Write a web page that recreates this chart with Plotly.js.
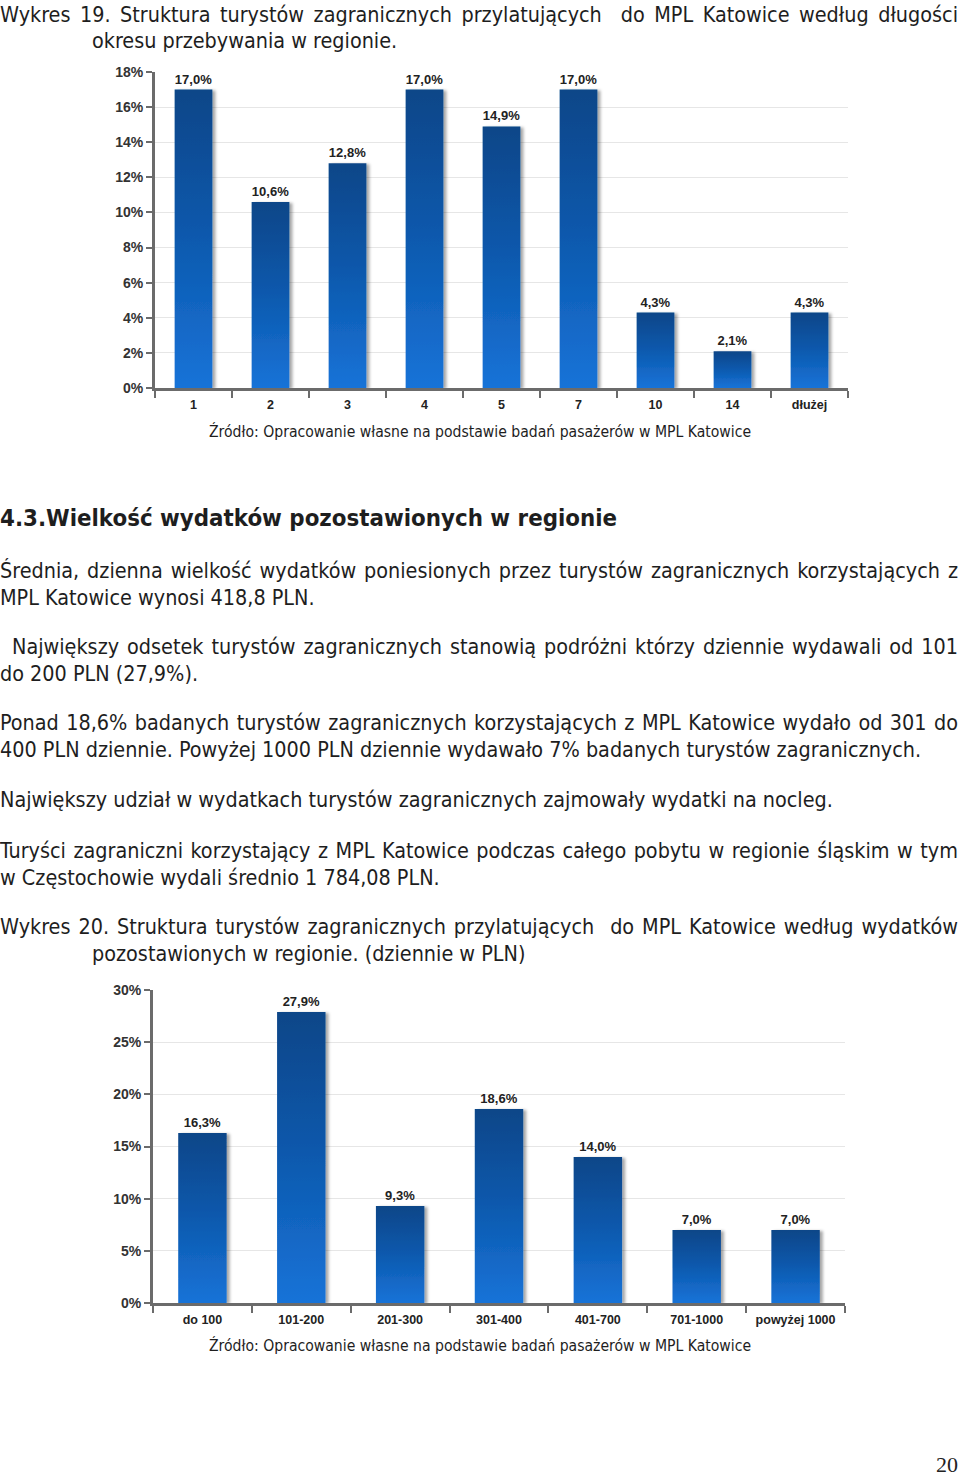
<!DOCTYPE html>
<html>
<head>
<meta charset="utf-8">
<script src="https://cdn.plot.ly/plotly-3.0.1.min.js"></script>
<style>
  html, body { margin: 0; padding: 0; background: #fff; }
  body { width: 960px; height: 1482px; position: relative; overflow: hidden;
         font-family: "DejaVu Sans Condensed", "DejaVu Sans", sans-serif; color: #1e1e1e; }
  .ln { position: absolute; left: 0; font-size: 21.4px; line-height: 27px; white-space: nowrap; }
  .src { position: absolute; left: 0; width: 960px; text-align: center; font-size: 15.6px; line-height: 22px; white-space: nowrap; }
  .chart { position: absolute; left: 0; width: 960px; }
</style>
</head>
<body>
<div class="ln" data-fit="958" style="top:1px;">Wykres 19. Struktura turystów zagranicznych przylatujących&nbsp; do MPL Katowice według długości</div>
<div class="ln" style="top:27px; left:92px;">okresu przebywania w regionie.</div>

<div id="chart1" class="chart" style="top:60px; height:360px;"></div>
<div class="src" style="top:421px;">Źródło: Opracowanie własne na podstawie badań pasażerów w MPL Katowice</div>

<div class="ln" style="top:505px; font-weight:bold; font-size:23.8px;">4.3.Wielkość wydatków pozostawionych w regionie</div>

<div class="ln" data-fit="958" style="top:557px;">Średnia, dzienna wielkość wydatków poniesionych przez turystów zagranicznych korzystających z</div>
<div class="ln" style="top:584px;">MPL Katowice wynosi 418,8 PLN.</div>

<div class="ln" data-fit="946" style="top:633px; left:12px;">Największy odsetek turystów zagranicznych stanowią podróżni którzy dziennie wydawali od 101</div>
<div class="ln" style="top:660px;">do 200 PLN (27,9%).</div>

<div class="ln" data-fit="958" style="top:709px;">Ponad 18,6% badanych turystów zagranicznych korzystających z MPL Katowice wydało od 301 do</div>
<div class="ln" style="top:736px;">400 PLN dziennie. Powyżej 1000 PLN dziennie wydawało 7% badanych turystów zagranicznych.</div>

<div class="ln" style="top:786px;">Największy udział w wydatkach turystów zagranicznych zajmowały wydatki na nocleg.</div>

<div class="ln" data-fit="958" style="top:837px;">Turyści zagraniczni korzystający z MPL Katowice podczas całego pobytu w regionie śląskim w tym</div>
<div class="ln" style="top:864px;">w Częstochowie wydali średnio 1 784,08 PLN.</div>

<div class="ln" data-fit="958" style="top:913px;">Wykres 20. Struktura turystów zagranicznych przylatujących&nbsp; do MPL Katowice według wydatków</div>
<div class="ln" style="top:940px; left:92px;">pozostawionych w regionie. (dziennie w PLN)</div>

<div id="chart2" class="chart" style="top:980px; height:355px;"></div>
<div class="src" style="top:1335px;">Źródło: Opracowanie własne na podstawie badań pasażerów w MPL Katowice</div>

<div style="position:absolute; top:1452px; right:2px; font-family:'Liberation Serif','DejaVu Serif',serif; font-size:22px; color:#222;">20</div>

<script>
// ---- data ----
const daysCategories = ['1', '2', '3', '4', '5', '7', '10', '14', 'dłużej'];
const daysValues = [17.0, 10.6, 12.8, 17.0, 14.9, 17.0, 4.3, 2.1, 4.3];
const daysTicks = [0, 2, 4, 6, 8, 10, 12, 14, 16, 18];

const spendCategories = ['do 100', '101-200', '201-300', '301-400', '401-700', '701-1000', 'powyżej 1000'];
const spendValues = [16.3, 27.9, 9.3, 18.6, 14.0, 7.0, 7.0];
const spendTicks = [0, 5, 10, 15, 20, 25, 30];

// justify single full-width lines by adjusting word spacing
document.querySelectorAll('[data-fit]').forEach(function (el) {
  const target = parseFloat(el.getAttribute('data-fit'));
  const natural = el.getBoundingClientRect().width;
  const spaces = (el.textContent.match(/[ \u00a0]/g) || []).length;
  if (spaces > 0) el.style.wordSpacing = ((target - natural) / spaces) + 'px';
});

const FONT = 'Liberation Sans, Arial, sans-serif';

function makeChart(id, cats, vals, ticks, yMax, margins, barWidth, gradId) {
  const trace = {
    type: 'bar',
    x: cats,
    y: vals,
    width: barWidth,
    marker: { color: '#0c57ab', line: { width: 0 } },
    texttemplate: '%{y:.1f}%',
    textposition: 'outside',
    textfont: { family: FONT, size: 13, color: '#222', weight: 'bold' },
    cliponaxis: false,
    hoverinfo: 'skip'
  };
  const layout = {
    separators: ',.',
    margin: margins,
    paper_bgcolor: '#fff',
    plot_bgcolor: '#fff',
    showlegend: false,
    bargap: 0.5,
    xaxis: {
      type: 'category',
      showline: true, linecolor: '#6b6b6b', linewidth: 3,
      ticks: 'outside', tickson: 'boundaries', ticklen: 7, tickwidth: 2, tickcolor: '#6b6b6b',
      ticklabelstandoff: 3,
      tickfont: { family: FONT, size: 12.5, color: '#222', weight: 'bold' },
      showgrid: false, zeroline: false, fixedrange: true
    },
    yaxis: {
      range: [0, yMax],
      tickmode: 'array',
      tickvals: ticks,
      ticktext: ticks.map(function (t) { return t + '%'; }),
      showline: true, linecolor: '#6b6b6b', linewidth: 3,
      ticks: 'outside', ticklen: 6, tickwidth: 2, tickcolor: '#6b6b6b',
      tickfont: { family: FONT, size: 14, color: '#333', weight: 'bold' },
      showgrid: true, gridcolor: '#e6e6e6', gridwidth: 1,
      zeroline: false, fixedrange: true
    }
  };
  return Plotly.newPlot(id, [trace], layout, { displayModeBar: false, staticPlot: true }).then(function (gd) {
    const svg = gd.querySelector('svg.main-svg');
    const ns = 'http://www.w3.org/2000/svg';
    let defs = svg.querySelector('defs');
    if (!defs) { defs = document.createElementNS(ns, 'defs'); svg.insertBefore(defs, svg.firstChild); }
    const lg = document.createElementNS(ns, 'linearGradient');
    lg.setAttribute('id', gradId);
    lg.setAttribute('x1', '0'); lg.setAttribute('y1', '0');
    lg.setAttribute('x2', '0'); lg.setAttribute('y2', '1');
    [['0', '#0a4688'], ['0.45', '#0b57aa'], ['1', '#1873d8']].forEach(function (s) {
      const st = document.createElementNS(ns, 'stop');
      st.setAttribute('offset', s[0]); st.setAttribute('stop-color', s[1]);
      lg.appendChild(st);
    });
    defs.appendChild(lg);
    const f = document.createElementNS(ns, 'filter');
    f.setAttribute('id', gradId + 'sh');
    f.setAttribute('x', '-20%'); f.setAttribute('y', '-10%');
    f.setAttribute('width', '150%'); f.setAttribute('height', '130%');
    const ds = document.createElementNS(ns, 'feDropShadow');
    ds.setAttribute('dx', '3'); ds.setAttribute('dy', '1');
    ds.setAttribute('stdDeviation', '1.5');
    ds.setAttribute('flood-color', '#000'); ds.setAttribute('flood-opacity', '0.35');
    f.appendChild(ds);
    defs.appendChild(f);
    gd.querySelectorAll('g.trace.bars g.point path').forEach(function (p) {
      p.style.fill = 'url(#' + gradId + ')';
      p.setAttribute('filter', 'url(#' + gradId + 'sh)');
    });
  });
}

makeChart('chart1', daysCategories, daysValues, daysTicks, 18,
  { l: 155, r: 112, t: 12, b: 32 }, 0.49, 'gradA');
makeChart('chart2', spendCategories, spendValues, spendTicks, 30,
  { l: 153, r: 115, t: 10, b: 32 }, 0.49, 'gradB');
</script>
</body>
</html>
